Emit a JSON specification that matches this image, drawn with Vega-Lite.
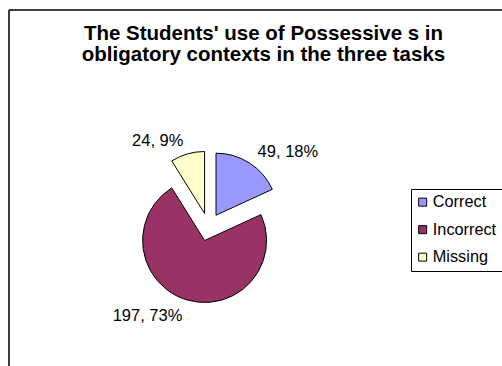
{
  "$schema": "https://vega.github.io/schema/vega-lite/v6.json",
  "autosize": {"type": "none"},
  "padding": {"left": 9, "top": 10, "right": 0, "bottom": 0},
  "width": 493,
  "height": 356,
  "background": "white",
  "config": {
    "font": "Liberation Sans",
    "view": {"stroke": "black", "strokeWidth": 1.5, "strokeDash": [493, 849, 356, 0]}
  },
  "title": {
    "text": ["The Students' use of Possessive s in", "obligatory contexts in the three tasks"],
    "font": "Liberation Sans",
    "fontSize": 20.5,
    "fontWeight": "bold",
    "color": "black",
    "anchor": "middle",
    "orient": "top",
    "offset": 0,
    "lineHeight": 21,
    "dx": 8,
    "dy": 55
  },
  "data": {
    "values": [
      {"category": "Correct", "count": 49, "label": "49, 18%"},
      {"category": "Incorrect", "count": 197, "label": "197, 73%"},
      {"category": "Missing", "count": 24, "label": "24, 9%"}
    ]
  },
  "transform": [
    {"stack": "count", "groupby": [], "as": ["start", "end"], "sort": [{"field": "category", "order": "ascending"}]}
  ],
  "encoding": {
    "x": {"value": 199.5},
    "y": {"value": 217}
  },
  "layer": [
    {
      "transform": [{"filter": "datum.category == 'Correct'"}],
      "mark": {"type": "arc", "outerRadius": 62, "stroke": "black", "strokeWidth": 1, "xOffset": 7.5, "yOffset": -11.8},
      "encoding": {
        "theta": {"field": "start", "type": "quantitative", "scale": {"domain": [0, 270]}},
        "theta2": {"field": "end"},
        "color": {
          "field": "category", "type": "nominal",
          "scale": {"domain": ["Correct", "Incorrect", "Missing"], "range": ["#9999FF", "#993366", "#FFFFCC"]},
          "legend": {
            "title": null, "orient": "none", "legendX": 402, "legendY": 179,
            "strokeColor": "black", "padding": 5,
            "symbolType": "square", "symbolSize": 64, "symbolStrokeColor": "black", "symbolStrokeWidth": 1,
            "symbolOpacity": 1, "symbolOffset": -1.5,
            "labelFont": "Liberation Sans", "labelFontSize": 16.3, "labelColor": "black", "labelOffset": 2,
            "rowPadding": 10.5
          }
        }
      }
    },
    {
      "transform": [{"filter": "datum.category == 'Incorrect'"}],
      "mark": {"type": "arc", "outerRadius": 62, "stroke": "black", "strokeWidth": 1, "xOffset": -3.9, "yOffset": 13.5},
      "encoding": {
        "theta": {"field": "start", "type": "quantitative"},
        "theta2": {"field": "end"},
        "color": {"field": "category", "type": "nominal"}
      }
    },
    {
      "transform": [{"filter": "datum.category == 'Missing'"}],
      "mark": {"type": "arc", "outerRadius": 62, "stroke": "black", "strokeWidth": 1, "xOffset": -3.9, "yOffset": -13.5},
      "encoding": {
        "theta": {"field": "start", "type": "quantitative"},
        "theta2": {"field": "end"},
        "color": {"field": "category", "type": "nominal"}
      }
    },
    {
      "mark": {
        "type": "text", "radius": 91, "fontSize": 16.5, "color": "black", "baseline": "middle", "dy": 1.5,
        "align": {"expr": "(datum.start + datum.end) / 2 < 135 ? 'left' : 'right'"}
      },
      "encoding": {
        "theta": {"field": "count", "type": "quantitative", "stack": true},
        "order": {"field": "category", "sort": "ascending"},
        "detail": {"field": "category"},
        "text": {"field": "label"}
      }
    }
  ]
}
